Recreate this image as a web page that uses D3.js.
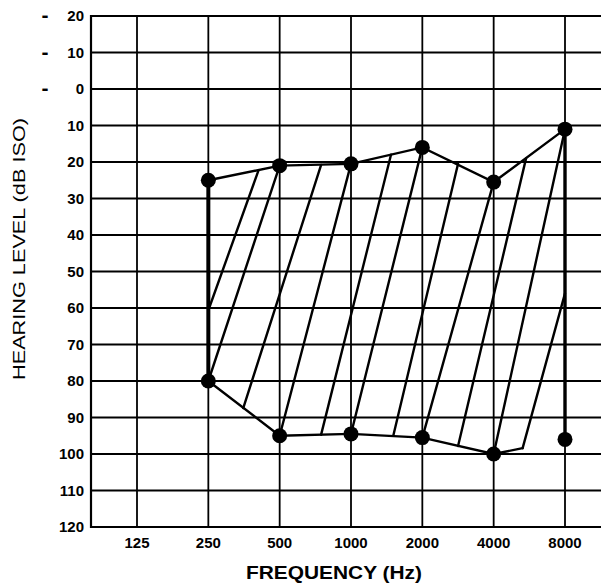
<!DOCTYPE html>
<html lang="en">
<head>
    <meta charset="UTF-8">
    <title>Audiogram</title>
    <style>
        body { margin: 0; background: white; }
        svg { display: block; }
        text { font-family: "Liberation Sans", Arial, sans-serif; fill: black; }
        .tick { font-size: 15px; font-weight: bold; }
        .minus { font-size: 21px; }
        .title { font-size: 18px; }
        .grid { stroke: black; }
    </style>
</head>
<body>
<svg class="chart"></svg>
<script src="https://cdn.jsdelivr.net/npm/d3@7"></script>
<script>

// frequencies on the x axis (Hz) and their labels
const freqs = [125, 250, 500, 1000, 2000, 4000, 8000];
const freqLabels = ["125", "250", "500", "1000", "2000", "4000", "8000"];

// hearing levels on the y axis (dB ISO) and their labels
const levels = [-20, -10, 0, 10, 20, 30, 40, 50, 60, 70, 80, 90, 100, 110, 120];
const levelLabels = ["20", "10", "0", "10", "20", "30", "40", "50", "60", "70", "80", "90", "100", "110", "120"];

// measured thresholds
const testFreqs = [250, 500, 1000, 2000, 4000, 8000];
const upperLevels = [25, 21, 20.5, 16, 25.5, 11];
const lowerLevels = [80, 95, 94.5, 95.5, 100, 96];

// hatch strokes across the area, [freq, dB] at each end
const hatchFrom = [[252, 60], [250, 80], [351, 87.4], [500, 95], [748, 94.7], [1000, 94.5],
                   [1508, 95], [2000, 95.5], [2830, 97.8], [4000, 100], [5300, 98.4]];
const hatchTo = [[406, 22.5], [500, 21], [748, 20.8], [1000, 20.5], [1475, 18], [2000, 16],
                 [2830, 20.5], [4000, 25.5], [5480, 19], [8000, 11], [8000, 56]];

const width = 601, height = 586;
const plotLeft = 91, plotRight = 601, plotTop = 16, plotBottom = 527;

const svg = d3.select("svg")
    .attr("width", width)
    .attr("height", height);

const x = d3.scaleLog().base(2)
    .domain([125, 8000])
    .range([137, 565]);

const y = d3.scaleLinear()
    .domain([-20, 120])
    .range([plotTop, plotBottom]);

// grid
svg.append("g")
    .selectAll("line")
    .data(levels)
    .join("line")
    .attr("class", "grid")
    .attr("x1", plotLeft - 1)
    .attr("x2", plotRight)
    .attr("y1", d => y(d))
    .attr("y2", d => y(d))
    .attr("stroke-width", 2.2);

svg.append("g")
    .selectAll("line")
    .data(freqs)
    .join("line")
    .attr("class", "grid")
    .attr("x1", d => x(d))
    .attr("x2", d => x(d))
    .attr("y1", plotTop)
    .attr("y2", plotBottom)
    .attr("stroke-width", 1.8);

svg.append("line")
    .attr("class", "grid")
    .attr("x1", plotLeft).attr("x2", plotLeft)
    .attr("y1", plotTop - 1).attr("y2", plotBottom + 1)
    .attr("stroke-width", 2.2);

// y tick labels
const yLabels = svg.append("g");
yLabels.selectAll("text")
    .data(levels)
    .join("text")
    .attr("class", "tick")
    .attr("x", 84)
    .attr("y", d => y(d))
    .attr("dy", "0.36em")
    .attr("text-anchor", "end")
    .text((d, i) => levelLabels[i]);

yLabels.selectAll(".minus")
    .data(levels.filter(d => d <= 0))
    .join("text")
    .attr("class", "tick minus")
    .attr("x", 45)
    .attr("y", d => y(d))
    .attr("dy", "0.3em")
    .attr("text-anchor", "middle")
    .text("-");

// x tick labels
svg.append("g")
    .selectAll("text")
    .data(freqs)
    .join("text")
    .attr("class", "tick")
    .attr("x", d => x(d))
    .attr("y", 543)
    .attr("dy", "0.36em")
    .attr("text-anchor", "middle")
    .text((d, i) => freqLabels[i]);

// axis titles
svg.append("text")
    .attr("class", "title")
    .attr("x", 334)
    .attr("y", 572)
    .attr("dy", "0.36em")
    .attr("text-anchor", "middle")
    .attr("textLength", 176)
    .attr("lengthAdjust", "spacingAndGlyphs")
    .style("font-weight", "bold")
    .style("font-size", "19px")
    .text("FREQUENCY (Hz)");

svg.append("text")
    .attr("class", "title")
    .attr("transform", "translate(19, 249) rotate(-90)")
    .attr("dy", "0.36em")
    .attr("text-anchor", "middle")
    .attr("textLength", 262)
    .attr("lengthAdjust", "spacingAndGlyphs")
    .style("font-size", "17px")
    .text("HEARING LEVEL (dB ISO)");

// shaded area
const area = svg.append("g")
    .attr("stroke", "black")
    .attr("fill", "none")
    .attr("stroke-linecap", "round");

area.selectAll(".hatch")
    .data(hatchFrom)
    .join("line")
    .attr("class", "hatch")
    .attr("x1", d => x(d[0]))
    .attr("y1", d => y(d[1]))
    .attr("x2", (d, i) => x(hatchTo[i][0]))
    .attr("y2", (d, i) => y(hatchTo[i][1]))
    .attr("stroke-width", 2.4);

const line = d3.line()
    .x(d => x(d[0]))
    .y(d => y(d[1]));

const upper = testFreqs.map((f, i) => [f, upperLevels[i]]);
const lower = testFreqs.map((f, i) => [f, lowerLevels[i]]);

area.append("path")
    .attr("d", line(upper))
    .attr("stroke-width", 2.4);

// lower edge stops where the last hatch stroke starts
area.append("path")
    .attr("d", line(lower.slice(0, 5).concat([hatchFrom[hatchFrom.length - 1]])))
    .attr("stroke-width", 2.4);

// thick side edges
area.append("line")
    .attr("x1", x(testFreqs[0])).attr("x2", x(testFreqs[0]))
    .attr("y1", y(upperLevels[0])).attr("y2", y(lowerLevels[0]))
    .attr("stroke-width", 4);

const last = testFreqs.length - 1;
area.append("line")
    .attr("x1", x(testFreqs[last])).attr("x2", x(testFreqs[last]))
    .attr("y1", y(upperLevels[last])).attr("y2", y(lowerLevels[last]))
    .attr("stroke-width", 3.4);

// threshold dots
svg.append("g")
    .selectAll("circle")
    .data(upper.concat(lower))
    .join("circle")
    .attr("cx", d => x(d[0]))
    .attr("cy", d => y(d[1]))
    .attr("r", 7.5)
    .attr("fill", "black");

</script>
</body>
</html>
